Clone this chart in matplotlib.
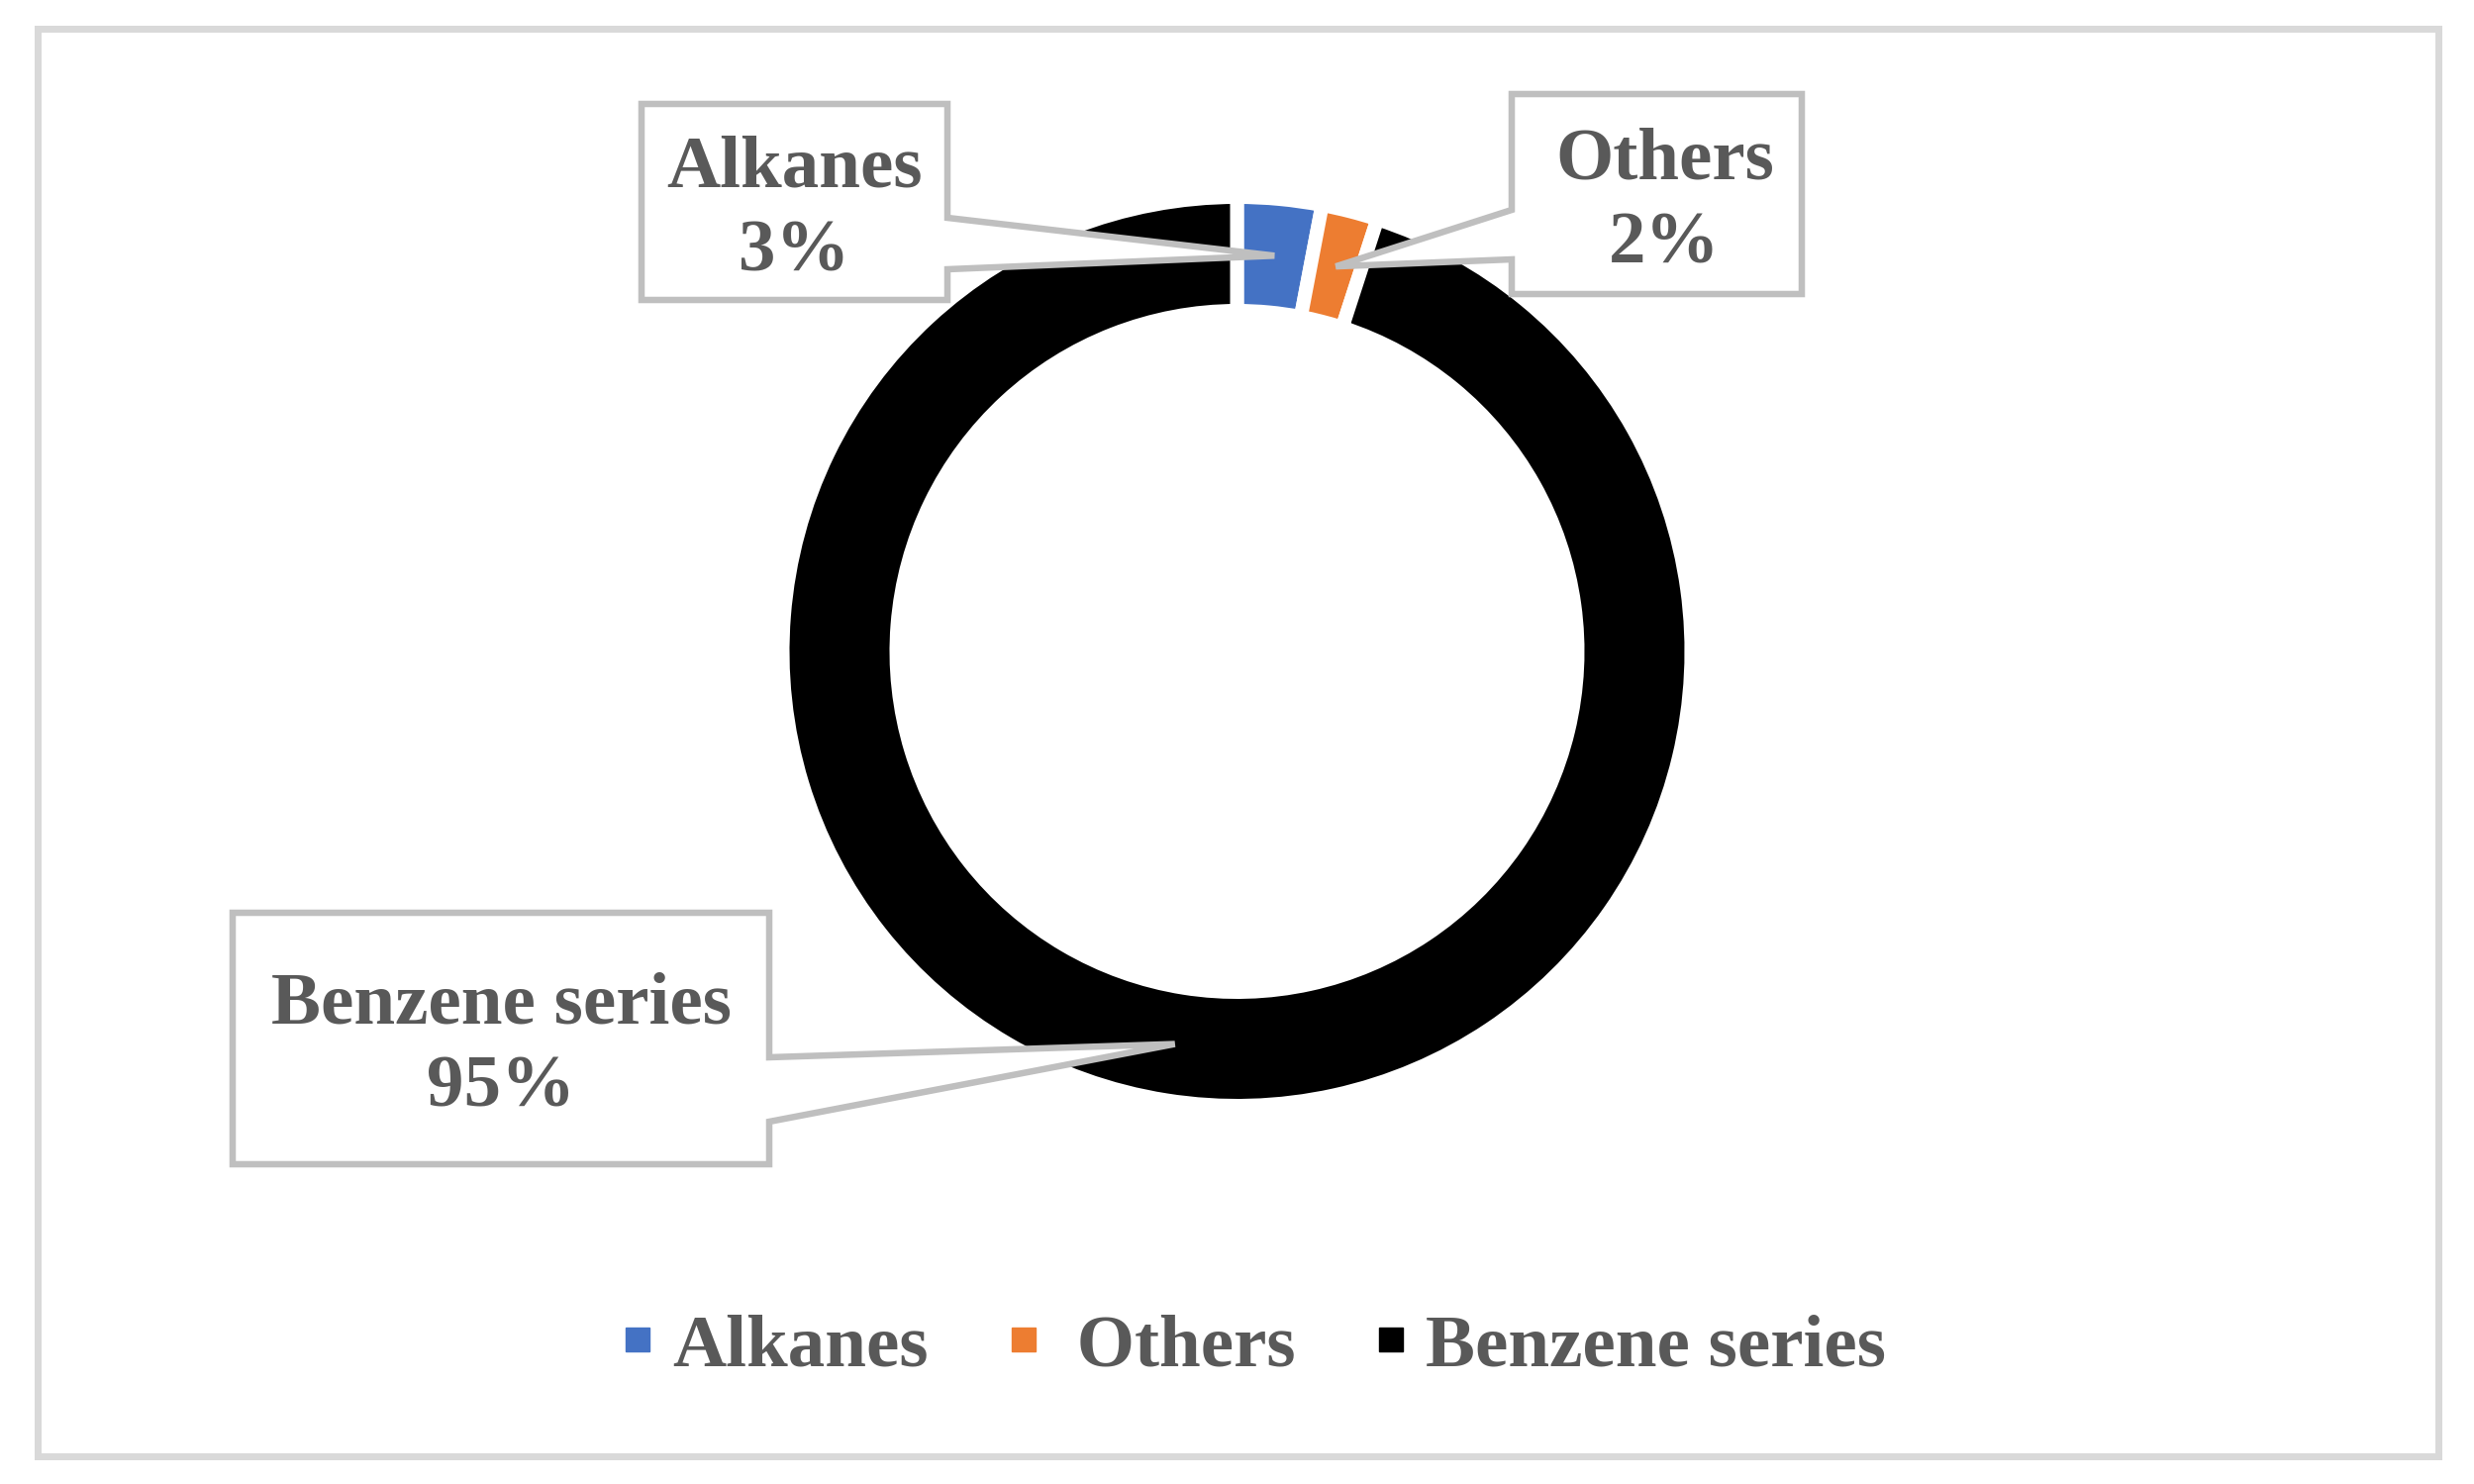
import numpy as np
import matplotlib
matplotlib.use("Agg")
import matplotlib.pyplot as plt
from matplotlib.patches import Polygon, Rectangle
from matplotlib.lines import Line2D

# ---- data ----
categories = ["Alkanes", "Others", "Benzene series"]
values = [3, 2, 95]
colors = ["#4472C4", "#ED7D31", "#000000"]

W, H = 2499, 1499
DPI = 100
PX = 72.0 / DPI  # points per pixel

fig = plt.figure(figsize=(W / DPI, H / DPI), dpi=DPI)
ax = fig.add_axes([0, 0, 1, 1])

TEXT_COLOR = "#595959"
FONT = "Liberation Serif"
FS = 54

# donut geometry (pixels, y measured from top)
cx, cy = 1249.5, 658.0
edge_px = 14
R = 452 + edge_px / 2
inner = 351 - edge_px / 2
ring = R - inner

wedges, _ = ax.pie(values, colors=colors, startangle=90, counterclock=False,
                   center=(cx, H - cy), radius=R,
                   wedgeprops=dict(width=ring, edgecolor="white",
                                   linewidth=edge_px * PX))

ax.set_xlim(0, W)
ax.set_ylim(0, H)
ax.set_aspect("equal")
ax.axis("off")

total = sum(values)
rmid = (R + inner) / 2

# callout boxes: (x0, x1, y0, y1) in pixels from top, side of pointer, base y-range
boxes = [
    dict(x0=648, x1=957, y0=105, y1=303, side="right", b0=220, b1=272, dx=0),
    dict(x0=1527, x1=1820, y0=95, y1=297, side="left", b0=212, b1=262, dx=8),
    dict(x0=235, x1=777, y0=922, y1=1176, side="right", b0=1068, b1=1133, dx=0),
]

for w, cat, val, b in zip(wedges, categories, values, boxes):
    ang = np.deg2rad((w.theta1 + w.theta2) / 2)
    tx = cx + rmid * np.cos(ang)
    ty = (H - cy) + rmid * np.sin(ang)
    x0, x1 = b["x0"], b["x1"]
    y0, y1 = H - b["y0"], H - b["y1"]
    b0, b1 = H - b["b0"], H - b["b1"]
    if b["side"] == "right":
        pts = [(x0, y0), (x1, y0), (x1, b0), (tx, ty), (x1, b1), (x1, y1), (x0, y1)]
    else:
        pts = [(x0, y0), (x1, y0), (x1, y1), (x0, y1), (x0, b1), (tx, ty), (x0, b0)]
    poly = Polygon(pts, closed=True, facecolor="white", edgecolor="#BFBFBF",
                   linewidth=6.5 * PX, joinstyle="miter", zorder=3)
    ax.add_patch(poly)
    pct = round(val / total * 100)
    xc = (x0 + x1) / 2 + b["dx"]
    yc_px = (b["y0"] + b["y1"]) / 2
    ax.text(xc, H - (yc_px - 16), cat, ha="center", va="baseline",
            fontsize=FS, fontweight="bold", family=FONT, color=TEXT_COLOR, zorder=4)
    ax.text(xc, H - (yc_px + 69), f"{pct}%", ha="center", va="baseline",
            fontsize=FS, fontweight="bold", family=FONT, color=TEXT_COLOR, zorder=4)

# outer chart border
ax.add_patch(Rectangle((37.5, H - 1471), 2425, 1442.5, fill=False,
                       edgecolor="#D9D9D9", linewidth=7 * PX, zorder=1))

# legend
handles = [Line2D([], [], marker="s", linestyle="", color=c, markersize=24 * PX)
           for c in colors]
leg = ax.legend(handles, categories, ncol=3, loc="center",
                bbox_to_anchor=(1268 / W, 1 - 1361 / H), frameon=False,
                prop=dict(family=FONT, weight="bold", size=FS),
                handlelength=0.35, handletextpad=0.3, columnspacing=1.1,
                borderpad=0, borderaxespad=0)
texts = leg.get_texts()
for t in texts:
    t.set_color(TEXT_COLOR)
texts[1].set_text(" " + categories[1])

fig.savefig("out.png", dpi=DPI, facecolor="white")
